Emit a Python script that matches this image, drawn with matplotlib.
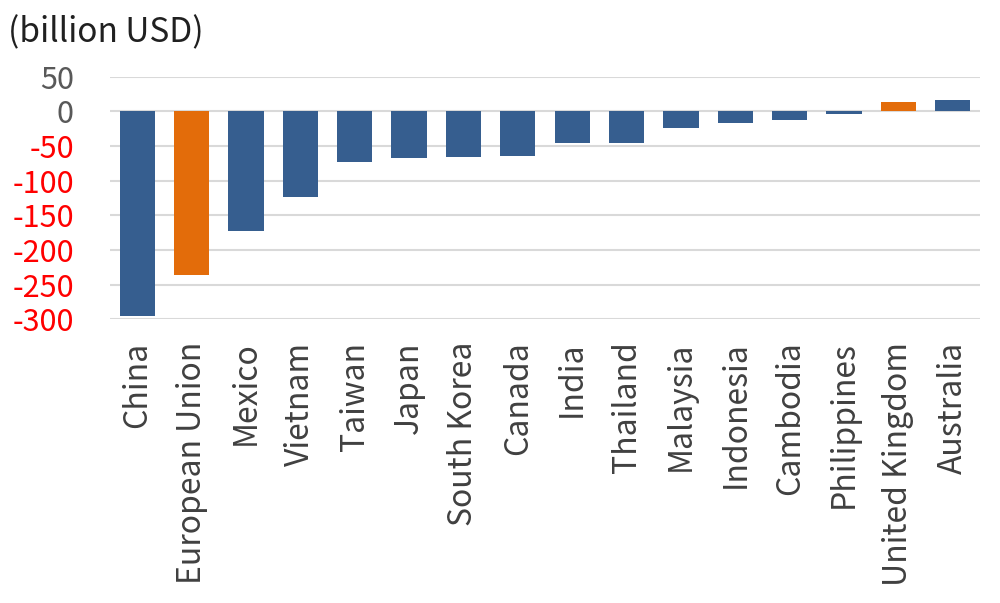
import matplotlib
matplotlib.use("Agg")
import matplotlib.pyplot as plt

plt.rcParams['font.family'] = ['Noto Sans CJK JP', 'DejaVu Sans']

countries = ["China", "European Union", "Mexico", "Vietnam", "Taiwan", "Japan",
             "South Korea", "Canada", "India", "Thailand", "Malaysia", "Indonesia",
             "Cambodia", "Philippines", "United Kingdom", "Australia"]
balance = [-295, -236, -172, -123, -73, -68, -66, -64, -46, -46, -24, -17, -12, -4, 13, 17]
highlight = ["European Union", "United Kingdom"]
yticks = [50, 0, -50, -100, -150, -200, -250, -300]

blue = "#365E8F"
orange = "#E36C0A"
colors = [orange if c in highlight else blue for c in countries]

fig = plt.figure(figsize=(10, 6.03), dpi=100)
ax = fig.add_axes([0.11, 0.4705, 0.87, 0.4023])
x = list(range(len(countries)))
ax.bar(x, balance, width=0.65, color=colors, zorder=3)
ax.set_xlim(-0.5, len(countries) - 0.5)
ax.set_ylim(-300, 50)
ax.set_yticks(yticks)
ax.set_yticklabels([str(v) for v in yticks])
for lbl, v in zip(ax.get_yticklabels(), yticks):
    lbl.set_color("#FF0000" if v < 0 else "#595959")
ax.set_xticks(x)
ax.set_xticklabels(countries, rotation=90, color="#404040")
ax.tick_params(axis='y', length=0, pad=26, labelsize=22)
ax.tick_params(axis='x', length=0, pad=16, labelsize=23)
ax.grid(axis='y', color="#D9D9D9", linewidth=1.5, zorder=0)
for s in ax.spines.values():
    s.set_visible(False)
fig.text(0.008, 0.945, "(billion USD)", fontsize=24, color="#202020", va='center', ha='left')
fig.savefig("out.png", dpi=100)
